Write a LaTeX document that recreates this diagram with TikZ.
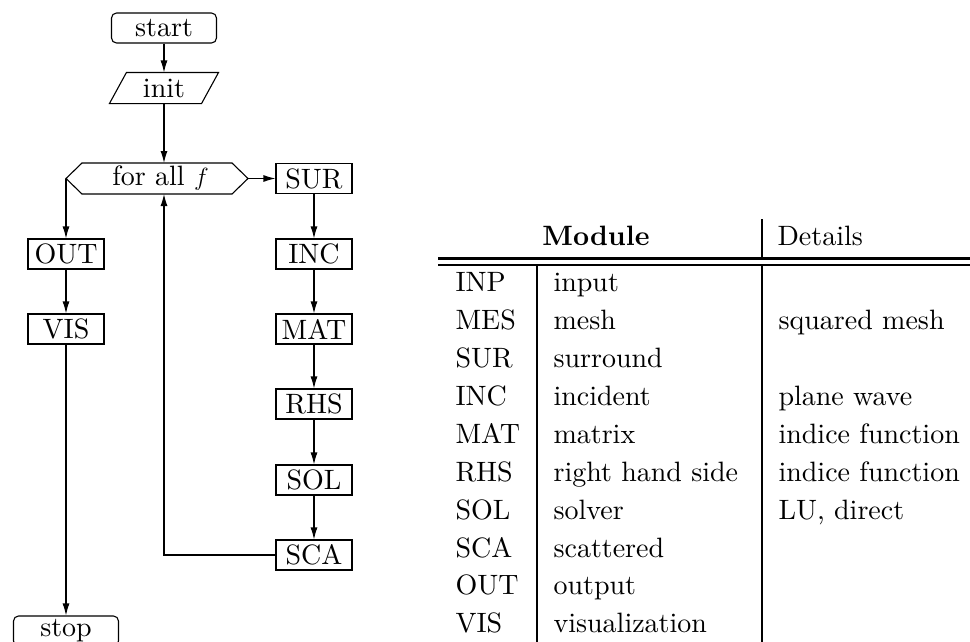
\documentclass[tikz,border=0pt]{standalone}
\usepackage{fontspec}
\setmainfont{lmroman10-regular.otf}[BoldFont=lmroman10-bold.otf,ItalicFont=lmroman10-italic.otf]
\usetikzlibrary{arrows.meta,calc}
\begin{document}
\begin{tikzpicture}[x=1pt,y=-1pt,
  font=\fontsize{28}{33}\selectfont,
  line width=1.1pt,
  arr/.style={-{Latex[length=12pt,width=7pt]}},
  mod/.style={draw,minimum width=76pt,minimum height=30pt,inner sep=0pt},
  term/.style={draw,rounded corners=5pt,minimum width=105pt,minimum height=30pt,inner sep=0pt},
  plain/.style={inner sep=0pt},
  tline/.style={line width=2.6pt},
  dline/.style={line width=2.3pt}]
\useasboundingbox (0,0) rectangle (970,641);

% flowchart nodes
\node[term] (start) at (164,28) {start};
\node[plain,minimum width=91pt,minimum height=30pt] (init) at (164,88) {init};
\draw ($(init.south west)+(-8.5,0)$) -- ($(init.south east)+(-8.5,0)$)
   -- ($(init.north east)+(8.5,0)$) -- ($(init.north west)+(8.5,0)$) -- cycle;

\node[plain] (for) at (160.5,178.5) {for all $f$};
\coordinate (fL) at (66,178.5);
\coordinate (fR) at (248,178.5);
\coordinate (fT) at (164,163);
\coordinate (fB) at (164,194);
\draw (fL) -- (82,163) -- (232,163) -- (fR) -- (232,194) -- (82,194) -- cycle;

\node[mod] (SUR) at (314,178.5) {SUR};
\node[mod] (INC) at (314,254) {INC};
\node[mod] (MAT) at (314,329) {MAT};
\node[mod] (RHS) at (314,404) {RHS};
\node[mod] (SOL) at (314,480) {SOL};
\node[mod] (SCA) at (314,555) {SCA};

\node[mod] (OUT) at (66,254) {OUT};
\node[mod] (VIS) at (66,329) {VIS};
\node[term] (stop) at (66,631) {stop};

% connectors
\draw[arr] (start) -- (init);
\draw[arr] (init) -- (fT);
\draw[arr] (fR) -- (SUR);
\draw[arr] (fL) -- (OUT);
\draw[arr] (OUT) -- (VIS);
\draw[arr] (VIS) -- (stop);
\draw[arr] (SUR) -- (INC);
\draw[arr] (INC) -- (MAT);
\draw[arr] (MAT) -- (RHS);
\draw[arr] (RHS) -- (SOL);
\draw[arr] (SOL) -- (SCA);
\draw[arr] (SCA.west) -| (fB);

% table
\node[plain,anchor=base] (hmod) at (596,245) {\textbf{Module}};
\node[plain,anchor=base west] (hdet) at (777,245) {Details};
\draw[dline] (438,258.5) -- (972,258.5);
\draw[dline] (438,265) -- (972,265);
\draw[tline] (537,266) -- (537,645);
\draw[tline] (762,219) -- (762,257.3);
\draw[tline] (762,266) -- (762,645);

\foreach \a/\b/\c [count=\i from 0] in
  {INP/input/,MES/mesh/squared mesh,SUR/surround/,INC/incident/plane wave,
   MAT/matrix/indice function,RHS/right hand side/indice function,
   SOL/solver/{LU, direct},SCA/scattered/,OUT/output/,VIS/visualization/}{
  \node[plain,anchor=base west] (ta\i) at (455,291.7+37.9*\i) {\a};
  \node[plain,anchor=base west] (tb\i) at (553,291.7+37.9*\i) {\b};
  \node[plain,anchor=base west] (tc\i) at (778,291.7+37.9*\i) {\c};
}
\end{tikzpicture}
\end{document}
